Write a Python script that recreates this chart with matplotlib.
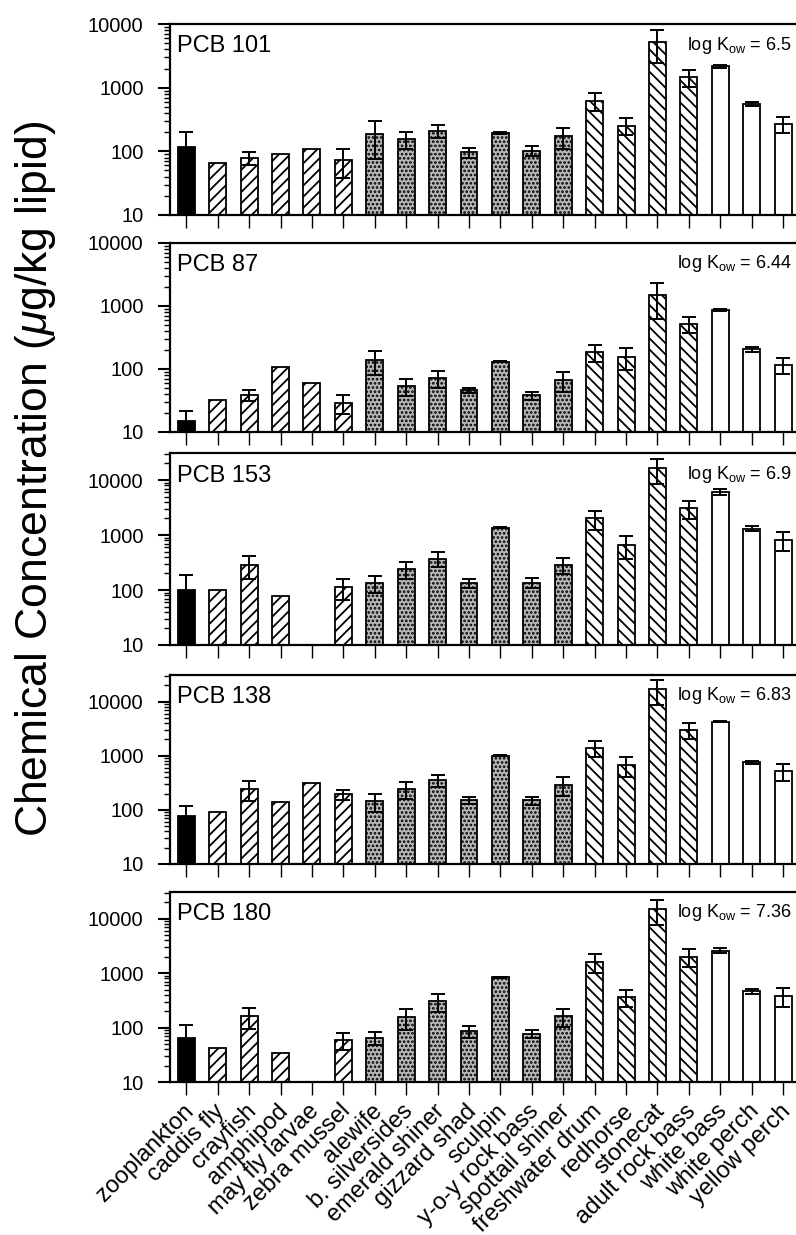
import numpy as np
import matplotlib
matplotlib.use("Agg")
import matplotlib.pyplot as plt
import matplotlib.transforms as mtransforms
from matplotlib.ticker import FixedLocator, LogLocator, NullFormatter

plt.rcParams["font.family"] = ["Liberation Sans", "DejaVu Sans"]
plt.rcParams["mathtext.fontset"] = "custom"
plt.rcParams["mathtext.rm"] = "Liberation Sans"
plt.rcParams["mathtext.it"] = "Liberation Sans:italic"
plt.rcParams["hatch.linewidth"] = 1.3

species = ["zooplankton", "caddis fly", "crayfish", "amphipod", "may fly larvae",
           "zebra mussel", "alewife", "b. silversides", "emerald shiner", "gizzard shad",
           "sculpin", "y-o-y rock bass", "spottail shiner", "freshwater drum", "redhorse",
           "stonecat", "adult rock bass", "white bass", "white perch", "yellow perch"]

panel_names = ["PCB 101", "PCB 87", "PCB 153", "PCB 138", "PCB 180"]
log_kow = ["6.5", "6.44", "6.9", "6.83", "7.36"]
y_top = [10000, 10000, 31000, 31000, 31000]

nan = np.nan
pcb101 = [116, 65, 78, 91, 110, 73, 186, 155, 210, 97, 193, 103, 171, 624, 253, 5200, 1470, 2170, 553, 271]
pcb101_sd = [82, 0, 18, 0, 0, 35, 110, 48, 50, 17, 5, 19, 61, 190, 75, 2800, 430, 130, 45, 75]
pcb87 = [14.8, 32, 39, 106, 59, 29, 137, 53, 71, 46, 130, 38, 66, 184, 155, 1490, 526, 867, 207, 117]
pcb87_sd = [7, 0, 7.5, 0, 0, 9.5, 57, 16, 21, 4, 3, 5.5, 23, 56, 58, 870, 150, 45, 19, 35]
pcb153 = [101, 98, 289, 79, nan, 113, 135, 244, 372, 135, 1350, 135, 289, 2000, 660, 16400, 3040, 6030, 1310, 815]
pcb153_sd = [86, 0, 130, 0, 0, 47, 47, 85, 115, 25, 20, 27, 97, 760, 300, 7800, 1050, 700, 130, 305]
pcb138 = [78, 91, 248, 137, 312, 193, 143, 241, 354, 149, 995, 149, 290, 1416, 680, 16900, 3000, 4280, 760, 526]
pcb138_sd = [40, 0, 100, 0, 0, 42, 50, 80, 95, 23, 20, 25, 112, 450, 270, 8200, 980, 150, 50, 190]
pcb180 = [64, 43, 163, 34, nan, 59, 65, 157, 303, 86, 845, 77, 161, 1633, 364, 15000, 2020, 2600, 462, 385]
pcb180_sd = [46, 0, 69, 0, 0, 20, 17, 66, 110, 21, 15, 14, 58, 640, 130, 7200, 730, 260, 40, 147]

values = [pcb101, pcb87, pcb153, pcb138, pcb180]
errors = [pcb101_sd, pcb87_sd, pcb153_sd, pcb138_sd, pcb180_sd]

# fill style per species group
styles = ([("black", None)] + [("white", "///")] * 5 + [("#b8b8b8", "....")] * 7
          + [("white", "\\\\\\")] * 4 + [("white", None)] * 3)

W, H = 796, 1235
fig = plt.figure(figsize=(W / 100, H / 100), dpi=100)
panel_px = [(24, 215), (243, 432), (453, 645), (675, 864), (892, 1082)]
x = np.arange(len(species))

for i, (yt, yb) in enumerate(panel_px):
    ax = fig.add_axes([170 / W, 1 - yb / H, (W - 171) / W, (yb - yt) / H])
    ax.set_yscale("log")
    vals = np.array(values[i], dtype=float)
    sd = np.array(errors[i], dtype=float)
    for j in range(len(species)):
        if np.isnan(vals[j]):
            continue
        fc, hatch = styles[j]
        ax.bar(x[j], vals[j], width=0.54, color=fc, edgecolor="black",
               linewidth=1.3, hatch=hatch, zorder=2)
    m = (sd > 0) & ~np.isnan(vals)
    ax.errorbar(x[m], vals[m], yerr=sd[m], fmt="none", ecolor="black",
                elinewidth=1.4, capsize=5, capthick=1.4, zorder=3)

    ax.set_xlim(-0.52, 19.38)
    ax.set_ylim(10, y_top[i])
    ax.yaxis.set_major_locator(FixedLocator([10, 100, 1000, 10000]))
    ax.set_yticklabels(["10", "100", "1000", "10000"], fontsize=14.5)
    ax.yaxis.set_minor_locator(LogLocator(base=10, subs=np.arange(2, 10)))
    ax.yaxis.set_minor_formatter(NullFormatter())
    ax.tick_params(axis="y", which="major", length=9, width=1.5, pad=10)
    ax.tick_params(axis="y", which="minor", length=4, width=1.0)
    ax.set_xticks(x)
    ax.tick_params(axis="x", direction="out", length=9.5, width=1.0)
    if i == len(panel_px) - 1:
        ax.set_xticklabels(species, rotation=45, ha="right",
                           rotation_mode="anchor", fontsize=17)
        # nudge labels a few pixels left so the last one stays inside the figure
        shift = mtransforms.ScaledTranslation(-4 / 100, 0, fig.dpi_scale_trans)
        for lab in ax.get_xticklabels():
            lab.set_transform(lab.get_transform() + shift)
    else:
        ax.set_xticklabels([])

    ax.spines["right"].set_visible(False)
    for s in ["left", "bottom", "top"]:
        ax.spines[s].set_linewidth(1.6)

    ax.text(0.011, 0.94, panel_names[i], transform=ax.transAxes,
            fontsize=17, ha="left", va="top")
    ax.text(0.995, 0.945, r"log K$_{\mathrm{ow}}$ = " + log_kow[i],
            transform=ax.transAxes, fontsize=13, ha="right", va="top")

fig.text(0.044, 1 - 479 / H, r"Chemical Concentration ($\mu$g/kg lipid)",
         rotation=90, fontsize=32, ha="center", va="center")

fig.savefig("out.png", dpi=100)
